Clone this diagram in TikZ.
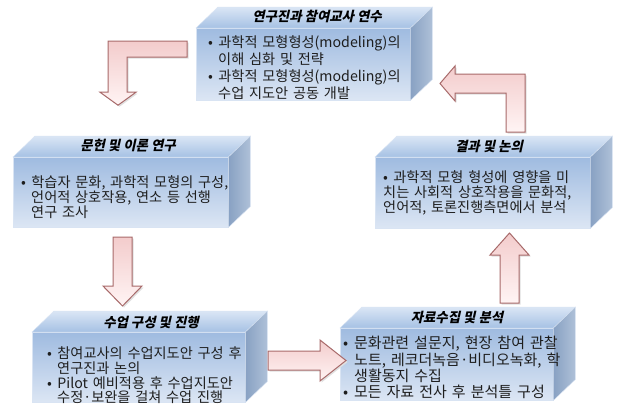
\documentclass[tikz,border=0pt]{standalone}
\usepackage{fontspec}
\setmainfont[WordSpace=1.5]{Noto Sans CJK KR}
\newfontfamily\titlefont[FakeSlant=0.22]{Noto Sans CJK KR}
\usetikzlibrary{calc}
\definecolor{txt}{HTML}{1E1E1E}
\definecolor{arrline}{HTML}{A86A6A}
\definecolor{cfront1}{HTML}{9FBBE0}
\definecolor{cfront2}{HTML}{DCE6F4}
\definecolor{ctop1}{HTML}{A6C1E4}
\definecolor{ctop2}{HTML}{DAE6F5}
\definecolor{cside1}{HTML}{88A1C3}
\definecolor{cside2}{HTML}{AFC1D8}
\definecolor{cpink1}{HTML}{F3CCCC}
\definecolor{cpink2}{HTML}{FFF4F4}
\newcommand\bul{\makebox[0.72em][l]{•}}
\newcommand\boxfaces[1]{%
  \shade[topface] (#1.north west) -- ++(22,-21) -- ($(#1.north east)+(22,-21)$) -- (#1.north east) -- cycle;
  \shade[sideface] (#1.north east) -- ++(22,-21) -- ($(#1.south east)+(22,-21)$) -- (#1.south east) -- cycle;
}
\tikzset{
  frontface/.style={rectangle, inner sep=0, anchor=north west, top color=cfront1, bottom color=cfront2, draw=white!60!cfront1, line width=0.4pt},
  topface/.style={top color=ctop2, bottom color=ctop1, draw=white!60!cfront1, line width=0.4pt},
  sideface/.style={left color=cside1, right color=cside2, draw=white!60!cfront1, line width=0.4pt},
  boxtitle/.style={font=\titlefont\bfseries\fontsize{13.4}{15}\selectfont, text=black, inner sep=0},
  ln/.style={font=\fontsize{14.2}{15}\selectfont, text=txt, inner sep=0, anchor=base west},
  lnb/.style={ln, font=\fontsize{15}{16}\selectfont},
  blockarrow/.style={draw=arrline, line width=1pt, line join=miter, left color=cpink1, right color=cpink2, shading angle=0},
  arrshadow/.style={fill=black!12},
}
\begin{document}
\begin{tikzpicture}[x=1pt,y=-1pt]
\useasboundingbox[fill=white] (0,0) rectangle (617,405);

% ---- boxes ----
\node[frontface, minimum width=214pt, minimum height=72pt] (b1) at (196,28) {};
\boxfaces{b1}
\node[frontface, minimum width=215pt, minimum height=70pt] (b2) at (13,157) {};
\boxfaces{b2}
\node[frontface, minimum width=215pt, minimum height=71pt] (b3) at (375,157) {};
\boxfaces{b3}
\node[frontface, minimum width=213pt, minimum height=70pt] (b4) at (32,332) {};
\boxfaces{b4}
\node[frontface, minimum width=213pt, minimum height=72pt] (b5) at (340,328) {};
\boxfaces{b5}

% ---- titles ----
\node[boxtitle] (t1) at (317,16) {연구진과 참여교사 연수};
\node[boxtitle] (t2) at (128,146) {문헌 및 이론 연구};
\node[boxtitle] (t3) at (489,146) {결과 및 논의};
\node[boxtitle] (t4) at (151,322) {수업 구성 및 진행};
\node[boxtitle] (t5) at (457,317) {자료수집 및 분석};

% ---- body texts ----
\node[ln] (x1a) at (208,47) {\bul 과학적 모형형성(modeling)의};
\node[ln] (x1b) at (218,64) {이해 심화 및 전략};
\node[ln] (x1c) at (208,81) {\bul 과학적 모형형성(modeling)의};
\node[ln] (x1d) at (218,98) {수업 지도안 공동 개발};

\node[ln] (x2a) at (21,187) {\bul 학습자 문화, 과학적 모형의 구성,};
\node[ln] (x2b) at (31,202) {언어적 상호작용, 연소 등 선행};
\node[ln] (x2c) at (31,217) {연구 조사};

\node[ln] (x3a) at (383,182) {\bul 과학적 모형 형성에 영향을 미};
\node[ln] (x3b) at (383,197) {치는 사회적 상호작용을 문화적,};
\node[ln] (x3c) at (383,212) {언어적, 토론진행측면에서 분석};

\node[ln] (x4a) at (47,358) {\bul 참여교사의 수업지도안 구성 후};
\node[ln] (x4b) at (57,373) {연구진과 논의};
\node[ln] (x4c) at (47,388) {\bul Pilot 예비적용 후 수업지도안};
\node[ln] (x4d) at (57,402) {수정·보완을 걸쳐 수업 진행};

\node[lnb] (x5a) at (343,348) {\bul 문화관련 설문지, 현장 참여 관찰};
\node[lnb] (x5b) at (354,365) {노트, 레코더녹음·비디오녹화, 학};
\node[lnb] (x5c) at (354,381) {생활동지 수집};
\node[lnb] (x5d) at (343,397) {\bul 모든 자료 전사 후 분석틀 구성};

% ---- block arrows ----
% A: from b1 to b2 (L shape, pointing down)
\coordinate (a1) at ($(b1.west)+(-9,-23)$);
\fill[arrshadow] ($(a1)+(1.5,1.5)$) -- ++(-79,0) -- ++(0,51) -- ++(-8,0) -- ++(18,13) -- ++(18,-13) -- ++(-9,0) -- ++(0,-35) -- ++(60,0) -- cycle;
\shade[blockarrow] (a1) -- ++(-79,0) -- ++(0,51) -- ++(-8,0) -- ++(18,13) -- ++(18,-13) -- ++(-9,0) -- ++(0,-35) -- ++(60,0) -- cycle;
% C: from b2 to b4 (down)
\coordinate (c1) at (113,237);
\fill[arrshadow] ($(c1)+(1.5,1.5)$) -- ++(19,0) -- ++(0,49) -- ++(10,0) -- ++(-19.5,20) -- ++(-19.5,-20) -- ++(10,0) -- cycle;
\shade[blockarrow] (c1) -- ++(19,0) -- ++(0,49) -- ++(10,0) -- ++(-19.5,20) -- ++(-19.5,-20) -- ++(10,0) -- cycle;
% D: from b4 to b5 (right)
\coordinate (d1) at (268,351);
\fill[arrshadow] ($(d1)+(1.5,1.5)$) -- ++(52,0) -- ++(0,-11) -- ++(26,20.5) -- ++(-26,20.5) -- ++(0,-11) -- ++(-52,0) -- cycle;
\shade[blockarrow] (d1) -- ++(52,0) -- ++(0,-11) -- ++(26,20.5) -- ++(-26,20.5) -- ++(0,-11) -- ++(-52,0) -- cycle;
% E: from b5 to b3 (up)
\coordinate (e1) at (500,303);
\fill[arrshadow] ($(e1)+(1.5,1.5)$) -- ++(0,-48) -- ++(-10,0) -- ++(19.5,-22) -- ++(19.5,22) -- ++(-10,0) -- ++(0,48) -- cycle;
\shade[blockarrow] (e1) -- ++(0,-48) -- ++(-10,0) -- ++(19.5,-22) -- ++(19.5,22) -- ++(-10,0) -- ++(0,48) -- cycle;
% B: from b3 to b1 (L shape, pointing left)
\coordinate (g1) at (525,132);
\fill[arrshadow] ($(g1)+(1.5,1.5)$) -- ++(0,-58) -- ++(-70,0) -- ++(0,-8) -- ++(-15,17.5) -- ++(15,17.5) -- ++(0,-8) -- ++(51,0) -- ++(0,39) -- cycle;
\shade[blockarrow] (g1) -- ++(0,-58) -- ++(-70,0) -- ++(0,-8) -- ++(-15,17.5) -- ++(15,17.5) -- ++(0,-8) -- ++(51,0) -- ++(0,39) -- cycle;
\end{tikzpicture}
\end{document}
